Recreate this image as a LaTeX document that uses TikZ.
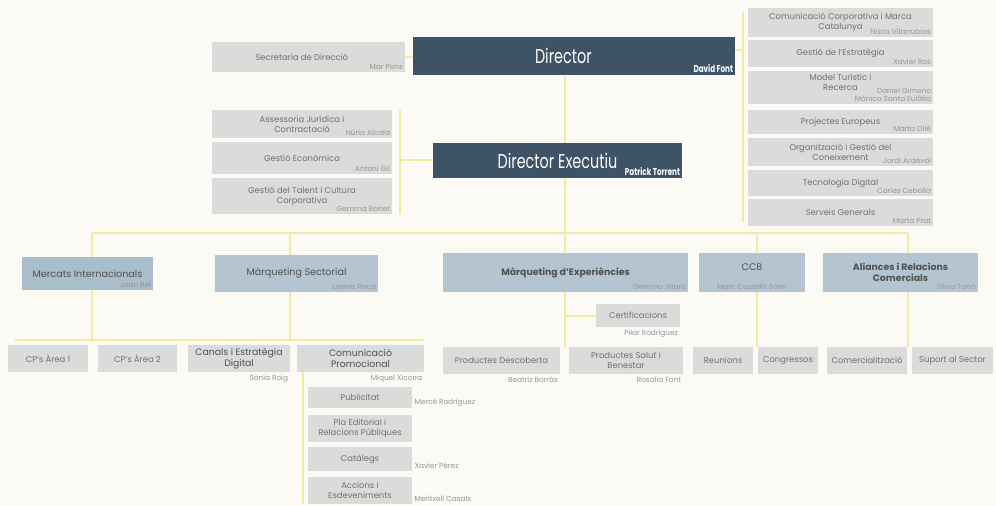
\documentclass[tikz,border=0pt]{standalone}
\usepackage{fontspec}
\setmainfont{Poppins}
\newfontfamily\titlefont{Poppins}[FakeStretch=0.72]
\usetikzlibrary{backgrounds}
\definecolor{bgc}{HTML}{FBFAF4}
\definecolor{darkc}{HTML}{3E5366}
\definecolor{grayc}{HTML}{DADCDB}
\definecolor{bluec}{HTML}{B4C5D1}
\definecolor{blued}{HTML}{A9BDCB}
\definecolor{linec}{HTML}{F1EBA2}
\definecolor{txtc}{HTML}{6F6F6F}
\definecolor{txtd}{HTML}{505050}
\definecolor{nmc}{HTML}{959595}
\newcommand\orgbox[7]{\node[#6, minimum width={(#4-#2)*0.75pt}, minimum height={(#5-#3)*0.75pt}] (#1) at ({(#2+#4)/2},{(#3+#5)/2}) {#7};}
\begin{document}
\begin{tikzpicture}[x=0.75pt, y=-0.75pt,
  box/.style={inner sep=0pt, align=center},
  gbox/.style={box, fill=grayc, text=txtc, font=\fontsize{6.3}{7.6}\selectfont},
  gdbox/.style={box, fill=grayc, text=txtd, font=\fontsize{7}{8.4}\selectfont},
  bbox/.style={box, fill=bluec, text=txtd, font=\fontsize{7.2}{8.6}\selectfont},
  bbbox/.style={box, fill=bluec, text=txtd, font=\bfseries\fontsize{7}{8.4}\selectfont},
  dkbox/.style={box, fill=darkc, text=white, font=\titlefont\fontsize{15}{18}\selectfont},
  nmw/.style={inner sep=1.5pt, text=white, font=\titlefont\bfseries\fontsize{7.5}{9}\selectfont},
  nmg/.style={inner sep=1.5pt, text=nmc, align=right, font=\fontsize{5.5}{6.6}\selectfont},
  conn/.style={draw=linec, line width=1.5pt}]
\useasboundingbox (0,0) rectangle (996,506);
% --- top
\orgbox{dir}{413}{37}{735}{75}{dkbox}{Director\hspace{16pt}}
\node[nmw, anchor=south east] (ndir) at (dir.south east) {David Font};
\orgbox{sec}{212}{42}{405}{72}{gbox}{Secretaria de Direcció\hspace{10pt}}
\node[nmg, anchor=south east] (nsec) at (sec.south east) {Mar Pons};
% --- right column
\orgbox{r1}{748}{8}{933}{37}{gbox}{Comunicació Corporativa i Marca\\Catalunya}
\node[nmg, anchor=south east] (nr1) at (r1.south east) {Núria Vilarrubias};
\orgbox{r2}{748}{40}{933}{67}{gbox}{Gestió de l'Estratègia}
\node[nmg, anchor=south east] (nr2) at (r2.south east) {Xavier Ros};
\orgbox{r3}{748}{71}{933}{104}{gbox}{Model Turístic i\\Recerca\\\mbox{}}
\node[nmg, anchor=south east] (nr3) at (r3.south east) {Daniel Gimeno\\Mònica Santa Eulàlia};
\orgbox{r4}{748}{110}{933}{134}{gbox}{Projectes Europeus}
\node[nmg, anchor=south east] (nr4) at (r4.south east) {Marta Olié};
\orgbox{r5}{748}{138}{933}{166}{gbox}{Organització i Gestió del\\Coneixement}
\node[nmg, anchor=south east] (nr5) at (r5.south east) {Jordi Ardèvol};
\orgbox{r6}{748}{170}{933}{196}{gbox}{Tecnologia Digital}
\node[nmg, anchor=south east] (nr6) at (r6.south east) {Carles Cebolla};
\orgbox{r7}{748}{199}{933}{226}{gbox}{Serveis Generals}
\node[nmg, anchor=south east] (nr7) at (r7.south east) {Marta Prat};
% --- left column
\orgbox{la}{212}{110}{392}{138}{gbox}{Assessoria Jurídica i\\Contractació}
\node[nmg, anchor=south east] (nla) at (la.south east) {Núria Alcalà};
\orgbox{lb}{212}{142}{392}{174}{gbox}{Gestió Econòmica}
\node[nmg, anchor=south east] (nlb) at (lb.south east) {Antoni Gil};
\orgbox{lc}{212}{178}{392}{214}{gbox}{Gestió del Talent i Cultura\\Corporativa}
\node[nmg, anchor=south east] (nlc) at (lc.south east) {Gemma Bonet};
% --- director executiu
\orgbox{dexe}{433}{143}{682}{178}{dkbox}{Director Executiu}
\node[nmw, anchor=south east] (ndexe) at (dexe.south east) {Patrick Torrent};
% --- level 2
\orgbox{mi}{22}{257}{153}{290}{bbox, fill=blued}{Mercats Internacionals}
\node[nmg, anchor=south east] (nmi) at (mi.south east) {Joan Bel};
\orgbox{ms}{215}{255}{378}{292}{bbox}{Màrqueting Sectorial}
\node[nmg, anchor=south east] (nms) at (ms.south east) {Esteve Roca};
\orgbox{me}{443}{253}{688}{292}{bbbox}{Màrqueting d'Experiències}
\node[nmg, anchor=south east] (nme) at (me.south east) {Gemma Vilaró};
\orgbox{ccb}{699}{253}{805}{292}{bbox}{CCB\\\mbox{}}
\node[nmg, anchor=south] (nccb) at (ccb.south) {Marc Castells Soler};
\orgbox{al}{823}{253}{978}{292}{bbbox}{Aliances i Relacions\\Comercials}
\node[nmg, anchor=south east] (nal) at (al.south east) {Sílvia Turró};
% --- level 3
\orgbox{cp1}{8}{345}{88}{372}{gbox}{CP's Àrea 1}
\orgbox{cp2}{98}{345}{177}{372}{gbox}{CP's Àrea 2}
\orgbox{can}{188}{345}{290}{372}{gdbox}{Canals i Estratègia\\Digital}
\node[nmg, anchor=north east] (ncan) at (can.south east) {Sònia Roig};
\orgbox{cpr}{297}{345}{424}{372}{gdbox}{Comunicació\\Promocional}
\node[nmg, anchor=north east] (ncpr) at (cpr.south east) {Miquel Xicoira};
\orgbox{pub}{308}{387}{412}{408}{gbox}{Publicitat}
\node[nmg, anchor=south west] (npub) at (pub.south east) {Mercè Rodríguez};
\orgbox{pla}{308}{415}{412}{442}{gbox}{Pla Editorial i\\Relacions Públiques}
\orgbox{cat}{308}{447}{412}{471}{gbox}{Catàlegs}
\node[nmg, anchor=south west] (ncat) at (cat.south east) {Xavier Pérez};
\orgbox{acc}{308}{477}{412}{504}{gbox}{Accions i\\Esdeveniments}
\node[nmg, anchor=south west] (nacc) at (acc.south east) {Meritxell Casals};
\orgbox{cert}{596}{304}{680}{327}{gbox}{Certificacions}
\node[nmg, anchor=north east] (ncert) at (cert.south east) {Pilar Rodríguez};
\orgbox{pd}{443}{347}{560}{374}{gbox}{Productes Descoberta}
\node[nmg, anchor=north east] (npd) at (pd.south east) {Beatriz Borràs};
\orgbox{psb}{569}{347}{683}{374}{gbox}{Productes Salut i\\Benestar}
\node[nmg, anchor=north east] (npsb) at (psb.south east) {Rosalia Font};
\orgbox{reu}{693}{347}{753}{374}{gbox}{Reunions}
\orgbox{cng}{758}{347}{818}{374}{gbox}{Congressos}
\orgbox{com}{827}{347}{907}{374}{gbox}{Comercialització}
\orgbox{sup}{912}{347}{993}{374}{gbox}{Suport al Sector}
% --- connectors
\coordinate (sp) at (565,0);
\coordinate (rtop) at (743,12);
\coordinate (rbot) at (743,222);
\coordinate (lv) at (400,0);
\coordinate (busL) at (92,233);
\coordinate (busR) at (908,233);
\coordinate (d2) at (290,233);
\coordinate (d4) at (757,233);
\coordinate (hL) at (15,340);
\coordinate (hR) at (424,340);
\coordinate (sv) at (303,0);
\begin{scope}[on background layer]
\fill[bgc] (0,0) rectangle (996,506);
\draw[conn] (sec.east) -- (sec.east -| dir.west);
\draw[conn] ([yshift=4.5pt]dir.east) -- ([yshift=4.5pt]dir.east -| rtop);
\draw[conn] (rtop) -- (rbot);
\draw[conn] (dir.south -| sp) -- (dexe.north -| sp);
\draw[conn] (lv |- la.north) -- (lv |- lc.south);
\draw[conn] (lv |- dexe.west) -- (dexe.west);
\draw[conn] (dexe.south -| sp) -- (sp |- pd.north);
\draw[conn] (busL) -- (busR);
\draw[conn] (busL) -- (busL |- hL);
\draw[conn] (d2) -- (d2 |- hL);
\draw[conn] (hL) -- (hR);
\draw[conn] (sp |- cert.west) -- (cert.west);
\draw[conn] (d4) -- (d4 |- reu.north);
\draw[conn] (busR) -- (busR |- com.north);
\draw[conn] (sv |- cpr.south) -- (sv |- acc.south);
\end{scope}
\end{tikzpicture}
\end{document}
